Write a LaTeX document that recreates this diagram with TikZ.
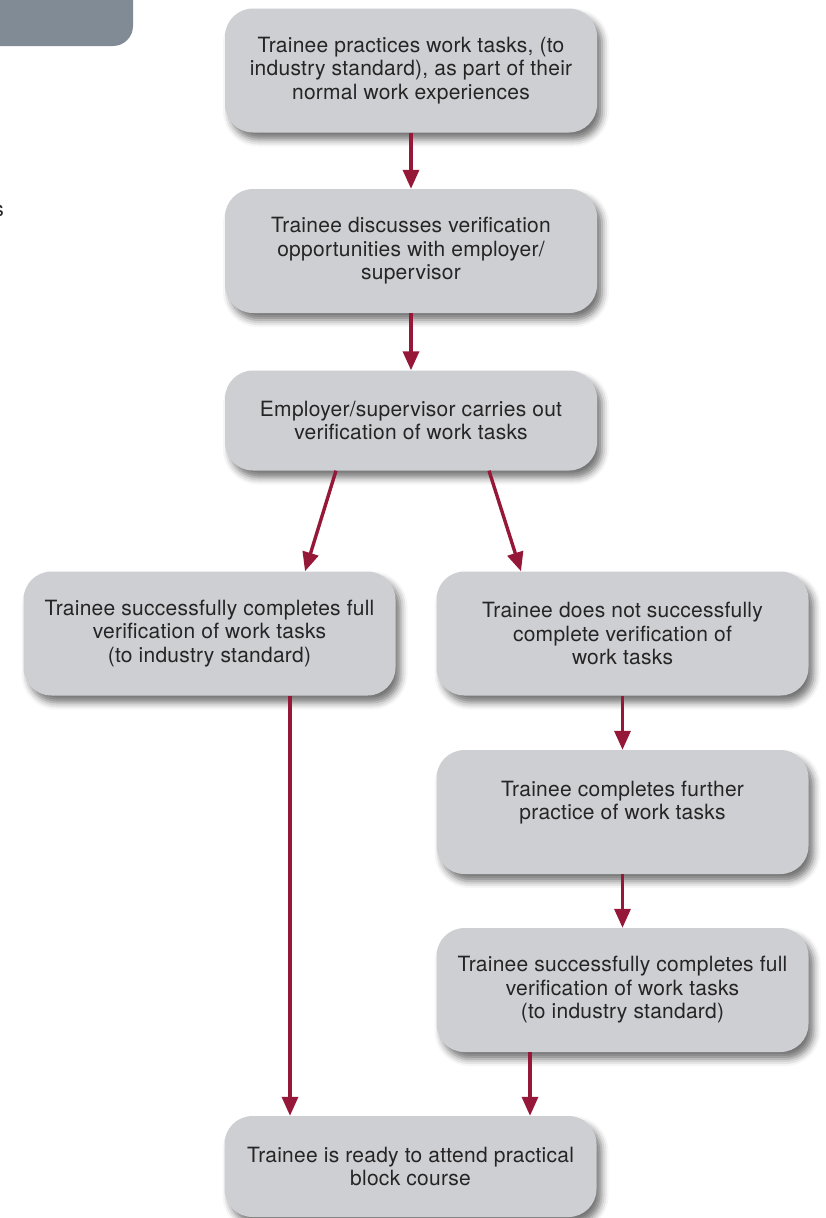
\documentclass[tikz,border=0pt]{standalone}
\usepackage{fontspec}
\setmainfont[LetterSpace=1.2]{TeX Gyre Heros}
\usetikzlibrary{arrows.meta,shadows.blur}
\definecolor{boxgray}{RGB}{205,207,211}
\definecolor{tabgray}{RGB}{128,139,150}
\definecolor{arrowred}{RGB}{150,24,56}
\definecolor{textgray}{RGB}{38,36,37}
\tikzset{%
  flownode/.style  = {shape=rectangle, rounded corners=28pt,%
                      fill=boxgray, align=center, text=textgray,%
                      minimum width=372pt, minimum height=124pt,%
                      font=\fontsize{21pt}{23.5pt}\selectfont,%
                      blur shadow={shadow xshift=5pt, shadow yshift=-7pt,%
                                   shadow blur radius=7pt, shadow opacity=55}},%
  shortnode/.style = {flownode, minimum height=100pt},%
  flowarrow/.style = {draw=arrowred, line width=3.4pt,%
                      -{Triangle[length=19pt,width=16pt]}}%
}

\begin{document}
\begin{tikzpicture}[x=1pt,y=-1pt]
	\useasboundingbox (0,0) rectangle (826,1218);
	% page remains
	\fill[tabgray, rounded corners=20pt] (-40,-40) rectangle (133,46);
	\node[anchor=base east, text=textgray, inner sep=0pt,
		font=\fontsize{21pt}{23.5pt}\selectfont] (cut) at (4,216) {s};
	% main column
	\node[flownode] (practice) at (411,70.5)
		{Trainee practices work tasks, (to\\industry standard), as part of their\\normal work experiences};
	\node[flownode] (discuss) at (411,251)
		{Trainee discusses verification\\opportunities with employer/\\supervisor};
	\node[shortnode] (verify) at (411,420.5)
		{Employer/supervisor carries out\\verification of work tasks};
	% two outcomes
	\node[flownode] (pass) at (209.5,633.5)
		{Trainee successfully completes full\\verification of work tasks\\(to industry standard)};
	\node[flownode] (fail) at (622.5,633.5)
		{Trainee does not successfully\\complete verification of\\work tasks};
	\node[flownode] (further) at (622.5,812)
		{Trainee completes further\\practice of work tasks\\\mbox{}};
	\node[flownode] (repass) at (622.5,990)
		{Trainee successfully completes full\\verification of work tasks\\(to industry standard)};
	\node[flownode, minimum height=101pt] (ready) at (410.5,1166.5)
		{Trainee is ready to attend practical\\block course};
	% connectors
	\draw[flowarrow] (practice) -- (discuss);
	\draw[flowarrow] (discuss) -- (verify);
	\draw[flowarrow] ([xshift=-75pt]verify.south) -- ([xshift=95.5pt]pass.north);
	\draw[flowarrow] ([xshift=78pt]verify.south) -- ([xshift=-101.5pt]fail.north);
	\draw[flowarrow] (fail) -- (further);
	\draw[flowarrow] (further) -- (repass);
	\draw[flowarrow] ([xshift=80.5pt]pass.south) -- ([xshift=-120.5pt]ready.north);
	\draw[flowarrow] ([xshift=-92.5pt]repass.south) -- ([xshift=119.5pt]ready.north);
\end{tikzpicture}
\end{document}
